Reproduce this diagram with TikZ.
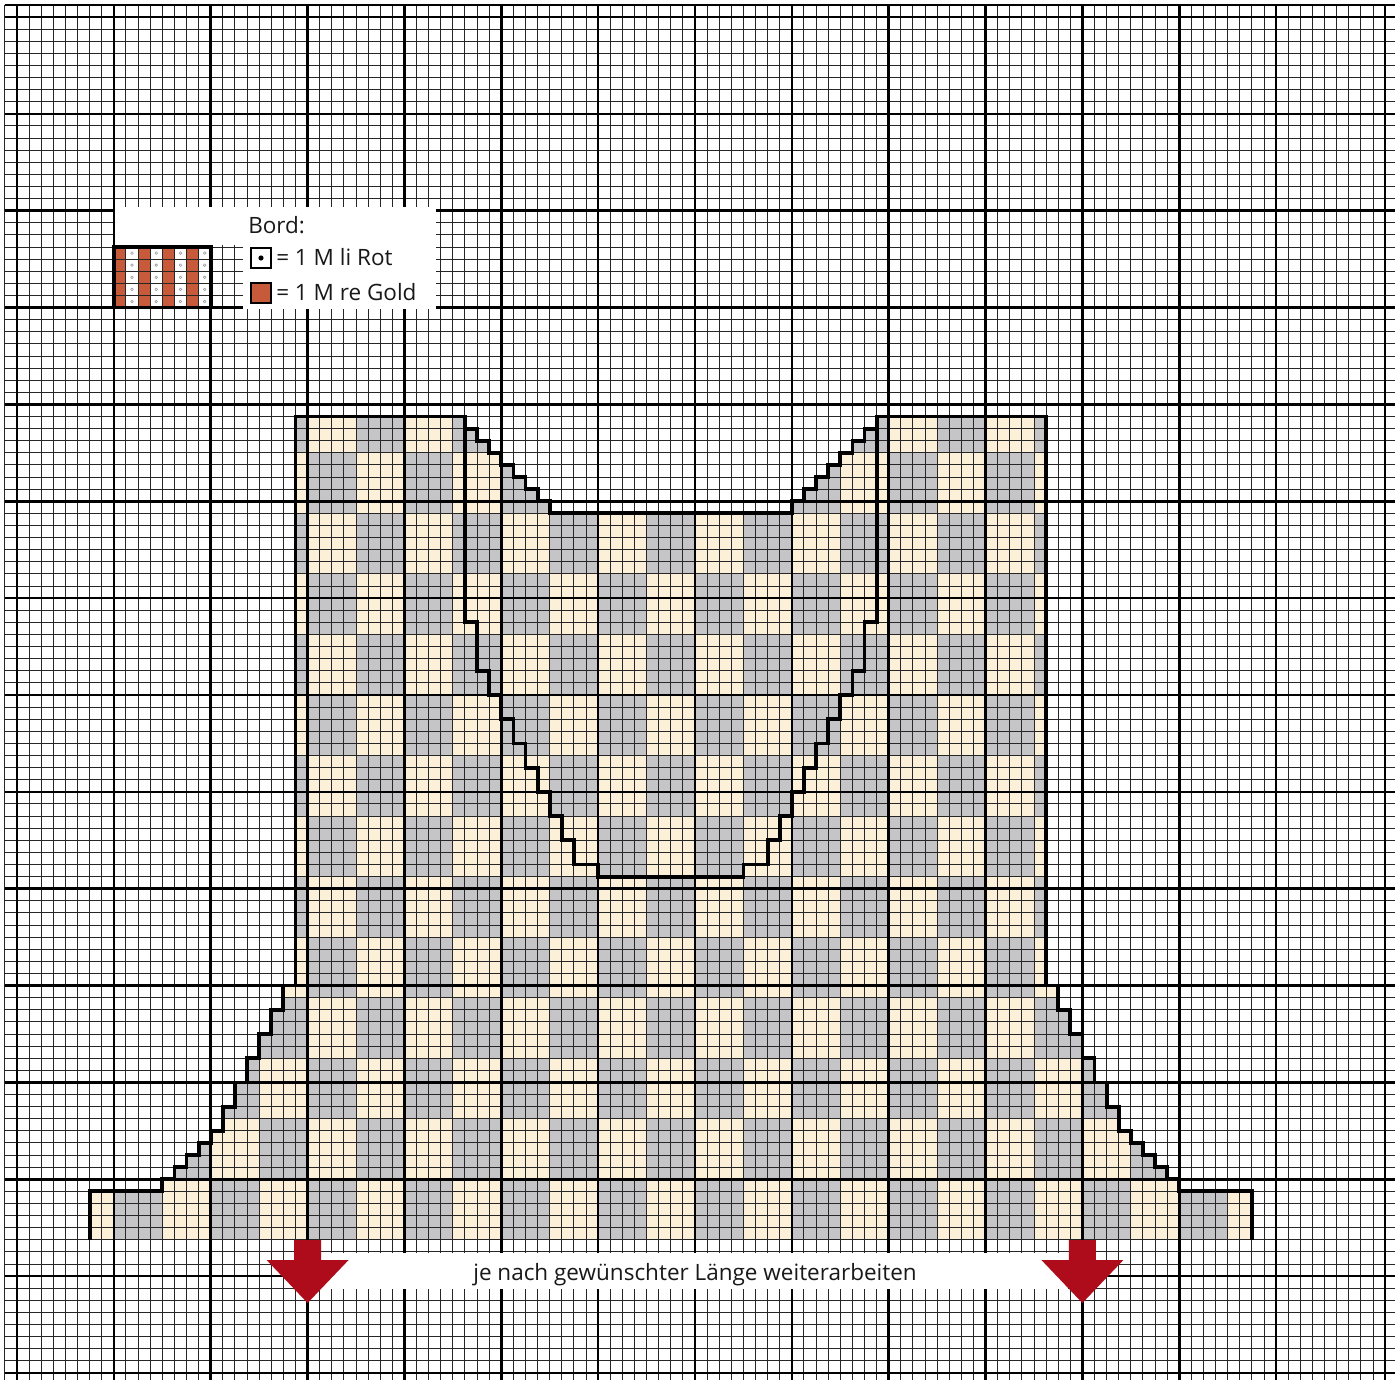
\documentclass[tikz,border=0pt]{standalone}
\usepackage{fontspec}
\setmainfont{Open Sans}
\usepackage{tikz}
\definecolor{strickhell}{HTML}{FCF0D9}
\definecolor{strickgrau}{HTML}{C5C5C7}
\definecolor{bordrot}{HTML}{C65A3B}
\definecolor{pfeilrot}{HTML}{AE0C1B}

% Umriss des Vorderteils (Kästchen, y nach unten), unten offen
\def\vorderteil{(7,102) -- (7,98) -- (13,98) -- (13,97) -- (14,97) -- (14,96) -- (15,96) -- (15,95) -- (16,95) -- (16,94) -- (17,94) -- (17,93) -- (18,93) -- (18,91) -- (19,91) -- (19,89) -- (20,89) -- (20,87) -- (21,87) -- (21,85) -- (22,85) -- (22,83) -- (23,83) -- (23,81) -- (24,81) -- (24,34) -- (38,34) -- (38,35) -- (39,35) -- (39,36) -- (40,36) -- (40,37) -- (41,37) -- (41,38) -- (42,38) -- (42,39) -- (43,39) -- (43,40) -- (44,40) -- (44,41) -- (45,41) -- (45,42) -- (65,42) -- (65,41) -- (66,41) -- (66,40) -- (67,40) -- (67,39) -- (68,39) -- (68,38) -- (69,38) -- (69,37) -- (70,37) -- (70,36) -- (71,36) -- (71,35) -- (72,35) -- (72,34) -- (86,34) -- (86,81) -- (87,81) -- (87,83) -- (88,83) -- (88,85) -- (89,85) -- (89,87) -- (90,87) -- (90,89) -- (91,89) -- (91,91) -- (92,91) -- (92,93) -- (93,93) -- (93,94) -- (94,94) -- (94,95) -- (95,95) -- (95,96) -- (96,96) -- (96,97) -- (97,97) -- (97,98) -- (103,98) -- (103,102)}

\begin{document}
\begin{tikzpicture}[x=0.025cm,y=-0.025cm,line join=miter,
  gitter/.style={black!85,line width=0.7pt},
  haupt/.style={black,line width=1.8pt},
  umriss/.style={black,line width=2.7pt},
  punkt/.style={black!40,line width=0.4pt},
  zeichen/.style={black,line width=1.7pt},
  schrift/.style={font=\fontsize{16}{19}\selectfont,text=black!90,inner sep=0pt},
  pfeil/.style={fill=pfeilrot}]
\path[use as bounding box] (0,0) rectangle (1395,1380);
\clip (0,0) rectangle (1395,1380);
\fill[white] (0,0) rectangle (1395,1380);

% Karomuster, Blöcke 4 M breit und 5 R hoch
\begin{scope}[shift={(4.9,4.9)},scale=12.107]
  \begin{scope}
    \clip \vorderteil -- cycle;
    \fill[strickhell] (0,0) rectangle (114,114);
    \foreach \b in {0,...,27}
      \foreach \t in {-1,...,12}{
        \pgfmathtruncatemacro\paritaet{mod(\b+\t+2,2)}
        \ifnum\paritaet=0
          \fill[strickgrau] ({4*\b+1},{37+5*\t}) rectangle ++(4,5);
        \fi
      }
  \end{scope}
  % Bord: re Gold / li Rot
  \foreach \i in {9,11,13,15}
    \fill[bordrot] (\i,20) rectangle ++(1,5);
  \foreach \i in {10,12,14,16}
    \foreach \j in {20,...,24}
      \draw[punkt] (\i+.5,\j+.5) circle[radius=.11];
  % Kästchenraster
  \foreach \i in {0,...,114}
    \draw[gitter] (\i,0) -- (\i,115);
  \foreach \j in {0,...,114}
    \draw[gitter] (0,\j) -- (115,\j);
  \foreach \i in {1,9,...,105,114}
    \draw[haupt] (\i,0) -- (\i,115);
  \foreach \j in {0,1,9,...,113}
    \draw[haupt] (0,\j) -- (115,\j);
\end{scope}

% weiße Flächen für Legende und Hinweis
\fill[white] (115,207) rectangle (436,245);
\fill[white] (243,245) rectangle (436,309);
\fill[white] (320,1253) rectangle (1068,1289);

\begin{scope}[shift={(4.9,4.9)},scale=12.107]
  \draw[umriss] \vorderteil;
  % Halsausschnitt vorn
  \draw[umriss] (38,34) -- (38,51) -- (39,51) -- (39,55) -- (40,55) -- (40,57) -- (41,57) -- (41,59) -- (42,59) -- (42,61) -- (43,61) -- (43,63) -- (44,63) -- (44,65) -- (45,65) -- (45,67) -- (46,67) -- (46,69) -- (47,69) -- (47,71) -- (49,71) -- (49,72) -- (61,72) -- (61,71) -- (63,71) -- (63,69) -- (64,69) -- (64,67) -- (65,67) -- (65,65) -- (66,65) -- (66,63) -- (67,63) -- (67,61) -- (68,61) -- (68,59) -- (69,59) -- (69,57) -- (70,57) -- (70,55) -- (71,55) -- (71,51) -- (72,51) -- (72,34);
  \draw[umriss] (9,20) rectangle (17,25);
\end{scope}

% Legende
\node[schrift,anchor=base west] (bord) at (248,233) {Bord:};
\draw[zeichen] (251,248) rectangle (271,268);
\fill (261,258) circle[radius=2.6];
\node[schrift,anchor=base west] (links) at (276,265) {= 1 M li Rot};
\draw[zeichen,fill=bordrot] (251,283) rectangle (271,303);
\node[schrift,anchor=base west] (rechts) at (276,300) {= 1 M re Gold};

% Pfeile unter M 25 und M 89
\foreach \x in {307.6,1082.4}
  \fill[pfeil] (\x-13.5,1240) -- ++(27,0) -- ++(0,20) -- ++(27.5,0) -- ++(-41,43) -- ++(-41,-43) -- ++(27.5,0) -- cycle;
\node[schrift,anchor=base] (hinweis) at (695,1280) {je nach gewünschter Länge weiterarbeiten};
\end{tikzpicture}
\end{document}
